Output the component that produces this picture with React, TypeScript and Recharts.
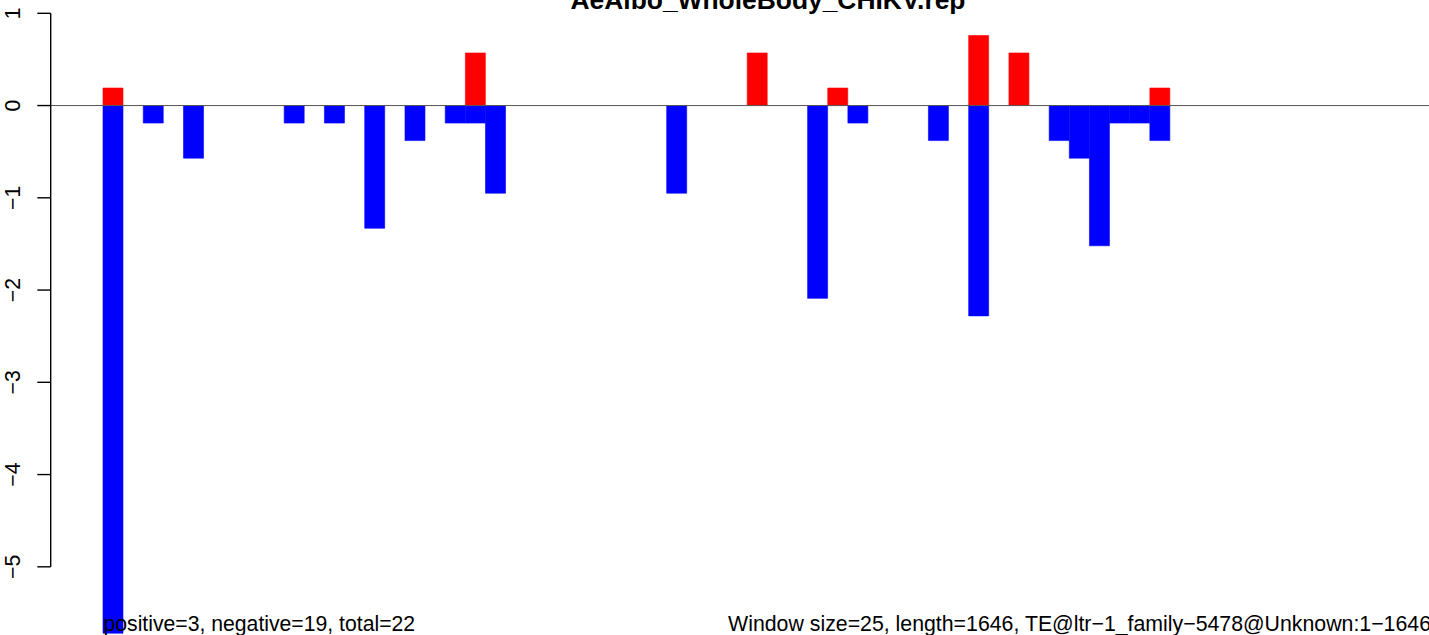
import React from "react";
import { Bar, BarChart, ReferenceLine, XAxis, YAxis } from "recharts";

const TITLE = "AeAlbo_WholeBody_CHIKV.rep";
const LEFT_NOTE = "positive=3, negative=19, total=22";
const RIGHT_NOTE = "Window size=25, length=1646, TE@ltr\u22121_family\u22125478@Unknown:1\u22121646";

// one value per 25-bp window (66 windows)
const POSITIVE = [
  0.19, 0, 0, 0, 0, 0, 0, 0, 0, 0, 0, 0, 0, 0, 0, 0, 0, 0, 0.57, 0, 0, 0,
  0, 0, 0, 0, 0, 0, 0, 0, 0, 0, 0.57, 0, 0, 0, 0.19, 0, 0, 0, 0, 0, 0, 0.76,
  0, 0.57, 0, 0, 0, 0, 0, 0, 0.19, 0, 0, 0, 0, 0, 0, 0, 0, 0, 0, 0, 0, 0,
];
const NEGATIVE = [
  -5.72, 0, -0.19, 0, -0.57, 0, 0, 0, 0, -0.19, 0, -0.19, 0, -1.33, 0, -0.38, 0, -0.19, -0.19, -0.95, 0, 0,
  0, 0, 0, 0, 0, 0, -0.95, 0, 0, 0, 0, 0, 0, -2.09, 0, -0.19, 0, 0, 0, -0.38, 0, -2.28,
  0, 0, 0, -0.38, -0.57, -1.52, -0.19, -0.19, -0.38, 0, 0, 0, 0, 0, 0, 0, 0, 0, 0, 0, 0, 0,
];
const Y_TICKS = [-5, -4, -3, -2, -1, 0, 1];

const FONT = "'Liberation Sans', Arial, Helvetica, sans-serif";
const CHART_W = 1484;
const CHART_H = 636;
const TOP = 13.3;
const AXIS_X = 50.7;
const Y_MIN = -5.75;
const Y_MAX = 1;
const PX_PER_UNIT = (CHART_H - TOP) / (Y_MAX - Y_MIN);

const data = POSITIVE.map((p, i) => ({ idx: i, pos: p, neg: NEGATIVE[i] }));

const fmt = (v: number) => (v < 0 ? `\u2212${Math.abs(v)}` : String(v));

// R-style axis: ticks, labels parallel to the axis, line only between end ticks
function AxisTick(props: any) {
  const { y, payload } = props;
  const v = payload.value as number;
  return (
    <g>
      <line x1={AXIS_X - 13.4} x2={AXIS_X} y1={y} y2={y} stroke="#000" strokeWidth={1.4} />
      {v > Y_TICKS[0] ? (
        <line x1={AXIS_X} x2={AXIS_X} y1={y} y2={y + PX_PER_UNIT} stroke="#000" strokeWidth={1.4} />
      ) : null}
      <text
        x={20}
        y={y}
        transform={`rotate(-90, 20, ${y})`}
        textAnchor="middle"
        fontFamily={FONT}
        fontSize={21.2}
        fill="#000"
      >
        {fmt(v)}
      </text>
    </g>
  );
}

export default function App() {
  return (
    <div
      style={{
        position: "absolute",
        left: 0,
        top: 0,
        width: 1429,
        height: 635,
        overflow: "hidden",
        background: "#fff",
      }}
    >
      <BarChart
        width={CHART_W}
        height={CHART_H}
        data={data}
        margin={{ top: TOP, right: 0, bottom: 0, left: 0 }}
        stackOffset="sign"
        barCategoryGap={0}
        barGap={0}
      >
        <XAxis dataKey="idx" hide padding={{ left: 52.3, right: 52.3 }} />
        <YAxis
          type="number"
          width={AXIS_X}
          domain={[Y_MIN, Y_MAX]}
          ticks={Y_TICKS}
          allowDataOverflow
          axisLine={false}
          tickLine={false}
          tick={<AxisTick />}
        />
        <ReferenceLine y={0} stroke="#555" strokeWidth={1} />
        <Bar
          dataKey="neg"
          stackId="a"
          fill="#0000ff"
          stroke="#0000ff"
          strokeWidth={0.6}
          isAnimationActive={false}
        />
        <Bar
          dataKey="pos"
          stackId="a"
          fill="#ff0000"
          stroke="#ff0000"
          strokeWidth={0.6}
          isAnimationActive={false}
        />
      </BarChart>
      <svg
        width={1429}
        height={635}
        style={{ position: "absolute", left: 0, top: 0, pointerEvents: "none" }}
      >
        <text x={768} y={8.5} textAnchor="middle" fontFamily={FONT} fontWeight="bold" fontSize={26.4} fill="#000">
          {TITLE}
        </text>
        <text x={103.5} y={630.6} fontFamily={FONT} fontSize={21.2} fill="#000">
          {LEFT_NOTE}
        </text>
        <text x={1431} y={630.6} textAnchor="end" fontFamily={FONT} fontSize={21.3} fill="#000">
          {RIGHT_NOTE}
        </text>
      </svg>
    </div>
  );
}
